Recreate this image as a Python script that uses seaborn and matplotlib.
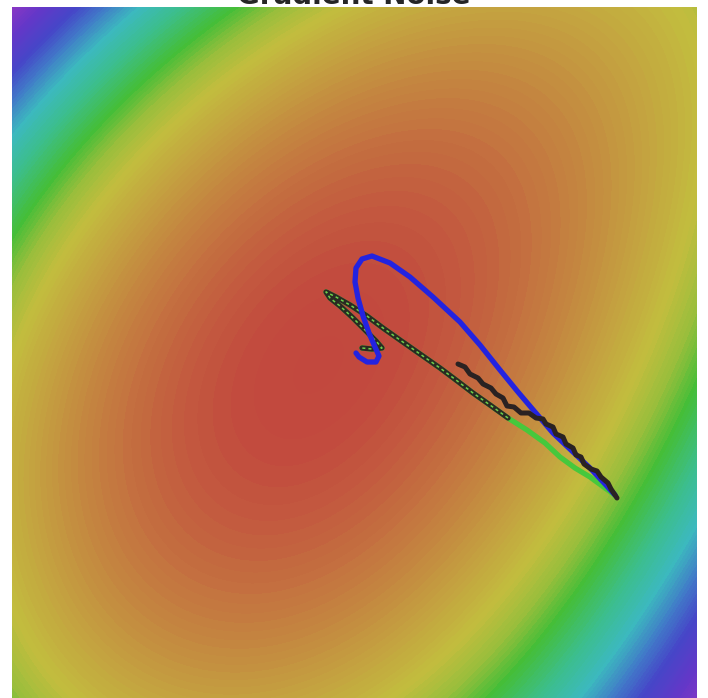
import numpy as np
import matplotlib
matplotlib.use("Agg")
import matplotlib.pyplot as plt
from matplotlib.colors import LinearSegmentedColormap
import seaborn as sns

sns.set_theme(style="white")
plt.rcParams['font.family'] = ['DejaVu Sans']

title = "Gradient Noise"

blue_x = [2.75, 2.65, 2.50, 2.33, 2.13, 1.95, 1.78, 1.60, 1.40, 1.20, 0.93, 0.70, 0.50,
          0.32, 0.22, 0.16, 0.15, 0.18, 0.23, 0.29, 0.35, 0.39, 0.36, 0.27, 0.19, 0.16]
blue_y = [-1.45, -1.34, -1.18, -1.02, -0.83, -0.62, -0.42, -0.20, 0.05, 0.28, 0.53, 0.73, 0.87,
          0.94, 0.91, 0.82, 0.68, 0.52, 0.34, 0.17, 0.03, -0.06, -0.12, -0.12, -0.07, -0.03]
green_x = [2.75, 2.65, 2.50, 2.35, 2.20, 2.05, 1.87, 1.68, 1.50, 1.33, 1.16, 1.00, 0.80, 0.60,
           0.43, 0.27, 0.10, -0.04, -0.14, -0.10, 0.00, 0.12, 0.25, 0.36, 0.42, 0.32, 0.22]
green_y = [-1.45, -1.38, -1.27, -1.18, -1.07, -0.93, -0.80, -0.68, -0.55, -0.43, -0.30, -0.18, -0.04, 0.10,
           0.22, 0.34, 0.45, 0.53, 0.58, 0.52, 0.44, 0.33, 0.20, 0.09, 0.02, 0.01, 0.02]
overlay_start = 7
noisy_x = [2.77, 2.71, 2.68, 2.61, 2.57, 2.51, 2.44, 2.41, 2.36, 2.33, 2.26, 2.23, 2.16, 2.13, 2.06,
           2.03, 1.96, 1.89, 1.81, 1.74, 1.67, 1.63, 1.56, 1.51, 1.43, 1.38, 1.30, 1.25, 1.18]
noisy_y = [-1.48, -1.39, -1.33, -1.27, -1.21, -1.19, -1.14, -1.07, -1.05, -0.98, -0.94, -0.87, -0.84, -0.77, -0.74,
           -0.69, -0.68, -0.63, -0.63, -0.57, -0.56, -0.48, -0.44, -0.38, -0.34, -0.28, -0.24, -0.17, -0.14]

stop_f = [0.0, 0.08, 0.32, 0.55, 0.72, 0.86, 1.0, 1.2, 1.38, 1.55, 1.7, 1.9, 2.2]
stop_c = ["#c2463d", "#c24a3e", "#c47a40", "#c4a340", "#c2bd3e", "#98be3c", "#45be38",
          "#3cbe8c", "#3cb9be", "#4178c8", "#4646c8", "#6437c8", "#a037c3"]

# surface levels: pixel x, pixel y, level, weight
lev = np.array([
    (205, 7, 1, 1), (12, 215, 1, 1), (697, 355, 1, 1), (500, 698, 1, 1),
    (120, 7, 1.38, 1), (12, 140, 1.38, 1), (697, 440, 1.38, 1), (570, 698, 1.38, 1),
    (70, 7, 1.7, 1), (12, 75, 1.7, 1), (697, 600, 1.7, 1), (640, 698, 1.7, 1),
    (12, 7, 2.1, 1), (30, 30, 1.95, 1), (697, 698, 1.95, 1),
    (300, 7, .86, 1), (12, 300, .86, 1), (697, 300, .86, 1), (12, 698, .86, 1), (697, 7, .86, 1),
    (450, 698, .86, 1), (12, 520, .72, 1), (697, 235, .72, 1), (400, 698, .72, 1),
    (415, 7, .58, 1), (12, 390, .58, 1), (697, 125, .52, 1), (250, 698, .6, 1),
    (335, 380, 0.0, 2), (340, 370, 0.0, 2),
    (440, 340, .15, 3), (640, 340, .62, 3), (440, 505, .35, 3), (640, 505, 1.0, 3),
    (640, 420, .78, 3), (540, 420, .45, 3), (615, 495, .9, 3),
    (300, 240, .25, 2), (500, 240, .35, 2), (300, 390, .08, 2), (500, 390, .25, 2)],
    dtype=float)
lx = (lev[:, 0] - 340) / 100
ly = (350 - lev[:, 1]) / 100
w = np.sqrt(lev[:, 3])
M = np.column_stack([lx ** 2, ly ** 2, lx * ly, lx, ly, np.ones_like(lx),
                     lx ** 3, ly ** 3, lx ** 2 * ly, lx * ly ** 2])
coef, *_ = np.linalg.lstsq(M * w[:, None], lev[:, 2] * w, rcond=None)

xlim = (-3.28, 3.57)
ylim = (-3.48, 3.43)

fig = plt.figure(figsize=(7.08, 6.98), dpi=100)
ax = fig.add_axes([12 / 708, 0, 685 / 708, 691 / 698])

xs = np.linspace(*xlim, 500)
ys = np.linspace(*ylim, 500)
X, Y = np.meshgrid(xs, ys)
Z = (coef[0] * X ** 2 + coef[1] * Y ** 2 + coef[2] * X * Y + coef[3] * X + coef[4] * Y + coef[5]
     + coef[6] * X ** 3 + coef[7] * Y ** 3 + coef[8] * X ** 2 * Y + coef[9] * X * Y ** 2)
fmax = stop_f[-1]
cmap = LinearSegmentedColormap.from_list(
    "surf", [(f / fmax, c) for f, c in zip(stop_f, stop_c)])
ax.contourf(X, Y, np.clip(Z, 0, fmax), levels=np.linspace(0, fmax, 110), cmap=cmap,
            vmin=0, vmax=fmax, antialiased=False)

sns.lineplot(x=green_x, y=green_y, sort=False, estimator=None, color="#46c83c", lw=3.8, ax=ax)
sns.lineplot(x=green_x[overlay_start:], y=green_y[overlay_start:], sort=False, estimator=None,
             color="#2a2a22", lw=3.8, ax=ax)
ax.plot(green_x[overlay_start:], green_y[overlay_start:], color="#6ad24a", lw=1.1, dashes=(2, 2))
sns.lineplot(x=blue_x, y=blue_y, sort=False, estimator=None, color="#2323e0", lw=3.8, ax=ax)
sns.lineplot(x=noisy_x, y=noisy_y, sort=False, estimator=None, color="#2a2222", lw=3.6, ax=ax)

ax.set_xlim(*xlim)
ax.set_ylim(*ylim)
ax.axis("off")

fig.text(0.5, 1 - 4 / 698, title, ha="center", va="baseline", fontsize=20, fontweight="bold")
fig.savefig("out.png", dpi=100)
